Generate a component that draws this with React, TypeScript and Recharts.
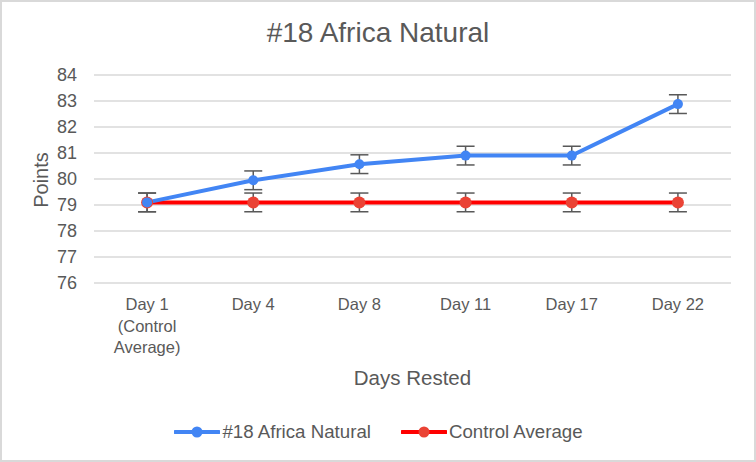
import React from 'react';
import { LineChart, Line, XAxis, YAxis, CartesianGrid, ErrorBar, Legend, Label } from 'recharts';

const categories = ['Day 1\n(Control\nAverage)', 'Day 4', 'Day 8', 'Day 11', 'Day 17', 'Day 22'];
const africaValues = [79.1, 79.95, 80.57, 80.9, 80.9, 82.88];
const africaErrors = [0.36, 0.36, 0.36, 0.36, 0.36, 0.36];
const controlValues = [79.1, 79.1, 79.1, 79.1, 79.1, 79.1];
const controlErrors = [0.36, 0.36, 0.36, 0.36, 0.36, 0.36];
const yTicks = [76, 77, 78, 79, 80, 81, 82, 83, 84];

const data = categories.map((c, i) => ({
  name: c,
  africa: africaValues[i],
  africaErr: africaErrors[i],
  control: controlValues[i],
  controlErr: controlErrors[i],
}));

const TEXT = '#595959';
const FONT = '"Liberation Sans", Arial, sans-serif';
const BLUE = '#4285F4';
const RED = '#FF0000';
const RED_DOT = '#EA4335';

const XTick = (props: any) => {
  const { x, y, payload } = props;
  const lines = String(payload.value).split('\n');
  return (
    <text x={x} y={y} textAnchor="middle" fill={TEXT} fontSize={16.5} fontFamily={FONT}>
      {lines.map((l, i) => (
        <tspan key={i} x={x} dy={i === 0 ? 19 : 21.5}>
          {l}
        </tspan>
      ))}
    </text>
  );
};

const legendItems = [
  { label: '#18 Africa Natural', line: BLUE, dot: BLUE },
  { label: 'Control Average', line: RED, dot: RED_DOT },
];

const LegendContent = () => (
  <div
    style={{
      height: 30,
      display: 'flex',
      justifyContent: 'center',
      alignItems: 'center',
      gap: 30,
      fontFamily: FONT,
      fontSize: 18.7,
      color: TEXT,
      paddingLeft: 26,
    }}
  >
    {legendItems.map((it) => (
      <div key={it.label} style={{ display: 'flex', alignItems: 'center' }}>
        <svg width={46} height={14} style={{ marginRight: 2 }}>
          <line x1={1} y1={7} x2={45} y2={7} stroke={it.line} strokeWidth={4} strokeLinecap="round" />
          <circle cx={23} cy={7} r={5.5} fill={it.dot} />
        </svg>
        <span>{it.label}</span>
      </div>
    ))}
  </div>
);

export default function App() {
  return (
    <div
      style={{
        position: 'absolute',
        left: 0,
        top: 0,
        width: 756,
        height: 462,
        boxSizing: 'border-box',
        border: '2px solid #d9d9d9',
        background: '#fff',
        overflow: 'hidden',
      }}
    >
      <div
        style={{
          position: 'absolute',
          left: -2,
          top: 15,
          width: 756,
          textAlign: 'center',
          fontFamily: FONT,
          fontSize: 28,
          lineHeight: '32px',
          color: TEXT,
        }}
      >
        #18 Africa Natural
      </div>
      <div style={{ position: 'absolute', left: -2, top: -2 }}>
        <LineChart width={756} height={462} data={data} margin={{ top: 75, right: 25, left: 0, bottom: 15 }}>
          <CartesianGrid vertical={false} stroke="#d9d9d9" strokeWidth={1.5} />
          <XAxis
            dataKey="name"
            scale="band"
            axisLine={false}
            tickLine={false}
            tick={<XTick />}
            height={134}
            interval={0}
          >
            <Label
              content={(p: any) => {
                const vb = p.viewBox;
                return (
                  <text
                    x={vb.x + vb.width / 2}
                    y={vb.y + 102}
                    textAnchor="middle"
                    fill={TEXT}
                    fontSize={20.5}
                    fontFamily={FONT}
                  >
                    Days Rested
                  </text>
                );
              }}
            />
          </XAxis>
          <YAxis
            domain={[76, 84]}
            ticks={yTicks}
            axisLine={false}
            tickLine={false}
            tickMargin={11}
            width={94}
            tick={{ fill: TEXT, fontSize: 18, fontFamily: FONT }}
          >
            <Label
              content={(p: any) => {
                const vb = p.viewBox;
                const cx = vb.x + 48;
                const cy = vb.y + vb.height / 2 + 1;
                return (
                  <text
                    x={cx}
                    y={cy}
                    transform={`rotate(-90, ${cx}, ${cy})`}
                    textAnchor="middle"
                    fill={TEXT}
                    fontSize={20}
                    fontFamily={FONT}
                  >
                    Points
                  </text>
                );
              }}
            />
          </YAxis>
          <Legend verticalAlign="bottom" content={<LegendContent />} />
          <Line
            dataKey="control"
            name="Control Average"
            stroke={RED}
            strokeWidth={4}
            dot={{ r: 6, fill: RED_DOT, stroke: RED_DOT, strokeWidth: 0 }}
            isAnimationActive={false}
          >
            <ErrorBar dataKey="controlErr" direction="y" width={9} stroke="#595959" strokeWidth={1.5} />
          </Line>
          <Line
            dataKey="africa"
            name="#18 Africa Natural"
            stroke={BLUE}
            strokeWidth={4}
            dot={{ r: 5, fill: BLUE, stroke: BLUE, strokeWidth: 0 }}
            isAnimationActive={false}
          >
            <ErrorBar dataKey="africaErr" direction="y" width={9} stroke="#595959" strokeWidth={1.5} />
          </Line>
        </LineChart>
      </div>
    </div>
  );
}
